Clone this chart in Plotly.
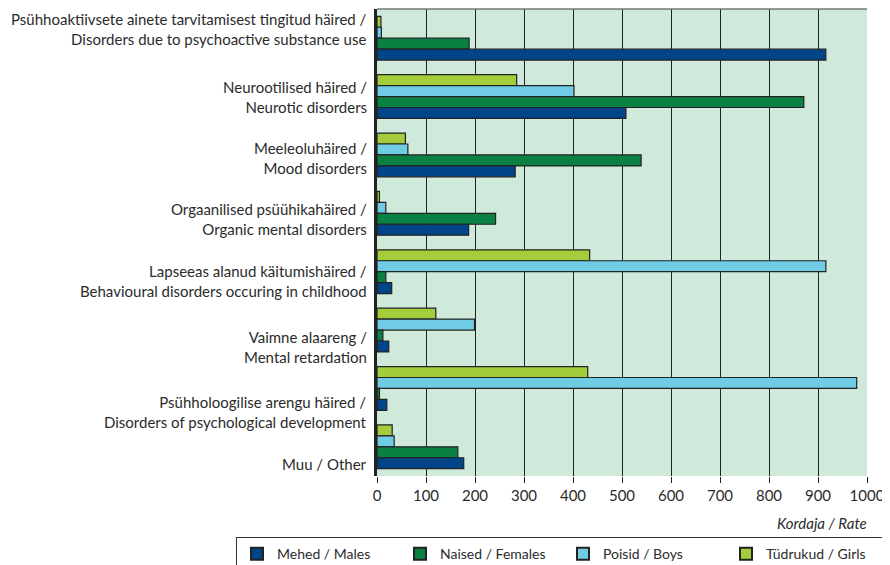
import plotly.graph_objects as go

categories = [
    "Psühhoaktiivsete ainete tarvitamisest tingitud häired /<br>Disorders due to psychoactive substance use",
    "Neurootilised häired /<br>Neurotic disorders",
    "Meeleoluhäired /<br>Mood disorders",
    "Orgaanilised psüühikahäired /<br>Organic mental disorders",
    "Lapseeas alanud käitumishäired /<br>Behavioural disorders occuring in childhood",
    "Vaimne alaareng /<br>Mental retardation",
    "Psühholoogilise arengu häired /<br>Disorders of psychological development",
    "Muu / Other",
]
cat_ids = ["c%d" % i for i in range(len(categories))]

males = [916, 508, 282, 187, 30, 24, 20, 177]
females = [188, 871, 539, 242, 18, 12, 5, 165]
boys = [9, 402, 63, 18, 916, 199, 979, 35]
girls = [8, 285, 58, 5, 434, 120, 430, 31]

series_names = ["Tüdrukud / Girls", "Poisid / Boys", "Naised / Females", "Mehed / Males"]
series_values = [girls, boys, females, males]
colors = ["#A3CD3B", "#70CCE4", "#0A8042", "#004588"]

x_ticks = [0, 100, 200, 300, 400, 500, 600, 700, 800, 900, 1000]
label_shift = [9, 0, -3, -6, -9, -17, -24, -17]

fig = go.Figure()
for name, vals, col in zip(series_names, series_values, colors):
    fig.add_trace(go.Bar(
        y=cat_ids, x=vals, name=name, orientation="h",
        marker=dict(color=col, line=dict(color="#222222", width=1.2)),
    ))

font_family = "Lato, 'Open Sans', sans-serif"
txt = "#2b2b2b"

annotations = []
for cid, lab, sh in zip(cat_ids, categories, label_shift):
    annotations.append(dict(
        x=0, xref="paper", xanchor="right", xshift=-8,
        y=cid, yref="y", yshift=sh, yanchor="middle",
        text=lab, showarrow=False, align="right",
        font=dict(family=font_family, size=15, color=txt),
    ))
annotations.append(dict(
    x=1, xref="paper", xanchor="right", xshift=2, y=-0.078, yref="paper", yanchor="top",
    text="<i>Kordaja / Rate</i>", showarrow=False,
    font=dict(family=font_family, size=15, color=txt),
))

fig.update_layout(
    width=882, height=575,
    margin=dict(l=369, r=23, t=1, b=107),
    paper_bgcolor="white",
    plot_bgcolor="#CFE9DA",
    barmode="group",
    bargap=0.25,
    bargroupgap=0,
    font=dict(family=font_family, size=15, color=txt),
    showlegend=True,
    legend=dict(
        orientation="h", traceorder="reversed",
        x=-0.285, xanchor="left", y=-0.1307, yanchor="top",
        bordercolor="#333333", borderwidth=1,
        font=dict(family=font_family, size=14, color=txt),
        entrywidth=118, itemsizing="constant",
    ),
    annotations=annotations,
    xaxis=dict(
        range=[0, 1000], tickvals=x_ticks, ticktext=[str(v) for v in x_ticks],
        showgrid=True, gridcolor="#222222", gridwidth=1.2,
        zeroline=False, ticks="outside", ticklen=6, tickcolor="#222222",
        tickfont=dict(family=font_family, size=15, color=txt),
        showline=False, fixedrange=True,
    ),
    yaxis=dict(
        type="category", categoryorder="array", categoryarray=cat_ids,
        autorange="reversed", showticklabels=False, ticks="",
        showline=True, linecolor="#222222", linewidth=2.5,
        showgrid=False, zeroline=False,
    ),
    shapes=[dict(type="line", xref="paper", yref="paper", x0=0, x1=1, y0=1, y1=1,
                 line=dict(color="#777777", width=1.5))],
)

fig.write_html("out.html")
